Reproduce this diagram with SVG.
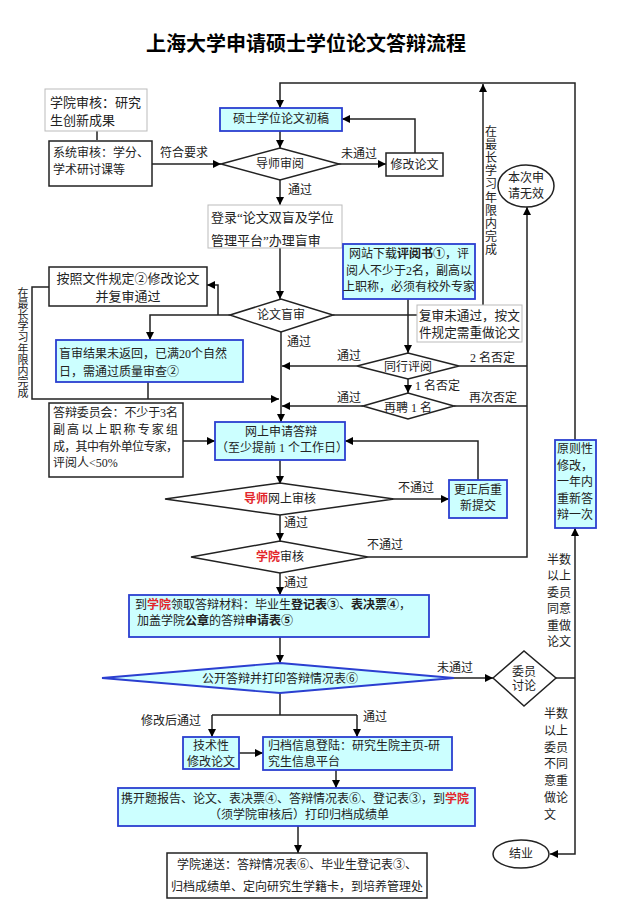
<svg xmlns="http://www.w3.org/2000/svg" width="618" height="918" viewBox="0 0 618 918">
<defs>
<marker id="a" viewBox="0 0 10 10" refX="10" refY="5" markerWidth="9" markerHeight="8" orient="auto" markerUnits="userSpaceOnUse"><path d="M0,0 L10,5 L0,10 z" fill="#000"/></marker>
<style>
text{font-family:"Liberation Serif","Noto Sans CJK SC",serif;font-size:12px;fill:#222;dominant-baseline:central}
.m{text-anchor:middle}
.b{font-weight:bold}
.r{fill:#e3262b;font-weight:bold}
.f13{font-size:13px}
.v11{font-size:11px;text-anchor:middle}
.bk{fill:#fff;stroke:#222;stroke-width:1.5}
.gy{fill:#fff;stroke:#bbb;stroke-width:1}
.cy{fill:#ccffff;stroke:#2b3fd0;stroke-width:1.8}
.dm{fill:#fff;stroke:#222;stroke-width:1.5}
.cn path{fill:none;stroke:#222;stroke-width:1.5}
.ar{marker-end:url(#a)}
</style>
</defs>
<rect width="618" height="918" fill="#fff"/>
<text x="306" y="42" class="m b" style="font-family:'Noto Sans CJK SC',sans-serif;font-size:20px;fill:#000">上海大学申请硕士学位论文答辩流程</text>

<g class="cn">
<path d="M97,131 V140"/>
<path class="ar" d="M152,164 H221"/>
<path class="ar" d="M575,440 V83 H280 V108"/>
<path class="ar" d="M280,131 V148"/>
<path class="ar" d="M338,164 H386"/>
<path class="ar" d="M415,153 V119 H342"/>
<path class="ar" d="M280,180 V205"/>
<path class="ar" d="M280,248 V299"/>
<path class="ar" d="M230,315 H150 V340"/>
<path class="ar" d="M218,315 V285 H207"/>
<path class="ar" d="M49,287 H32 V399 H279"/>
<path d="M148,382 V399"/>
<path class="ar" d="M281,332 V422"/>
<path d="M333,315 H417"/>
<path class="ar" d="M408,299 V353"/>
<path class="ar" d="M483,305 V84"/>
<path class="ar" d="M357,366 H282"/>
<path class="ar" d="M408,379 V393"/>
<path class="ar" d="M363,406 H282"/>
<path d="M459,366 H527"/>
<path d="M454,406 H527"/>
<path class="ar" d="M368,557 H527 V207"/>
<path class="ar" d="M183,441 H215"/>
<path class="ar" d="M478,480 V441 H345"/>
<path class="ar" d="M280,460 V484"/>
<path class="ar" d="M394,499 H449"/>
<path class="ar" d="M280,515 V541"/>
<path class="ar" d="M280,573 V595"/>
<path class="ar" d="M280,637 V663"/>
<path class="ar" d="M454,678 H493"/>
<path d="M280,693 V715 M212,715 H357"/>
<path class="ar" d="M212,715 V737"/>
<path class="ar" d="M357,715 V737"/>
<path class="ar" d="M239,753 H263"/>
<path class="ar" d="M336,770 V788"/>
<path class="ar" d="M298,826 V853"/>
<path d="M556,678 H575"/>
<path class="ar" d="M575,678 V528"/>
<path class="ar" d="M575,678 V854 H550"/>
</g>

<g id="n-xyshenhe"><rect class="gy" x="45" y="89" width="102" height="42"/><text x="50" y="102" class="f13">学院审核：研究</text><text x="50" y="120" class="f13">生创新成果</text></g>
<g id="n-xitong"><rect class="bk" x="49" y="141" width="103" height="45"/><text x="53" y="153">系统审核：学分、</text><text x="53" y="170">学术研讨课等</text></g>
<g id="n-chugao"><rect class="cy" x="220" y="108" width="122" height="23"/><text x="281" y="119" class="m">硕士学位论文初稿</text></g>
<g id="n-daoshi"><polygon class="dm" points="221,164 280,148 339,164 280,180"/><text x="280" y="164" class="m">导师审阅</text></g>
<g id="n-xiugai"><rect class="bk" x="386" y="153" width="57" height="23"/><text x="414.5" y="165" class="m">修改论文</text></g>
<g id="n-wuxiao"><ellipse cx="526" cy="186" rx="28" ry="21" fill="#fff" stroke="#222" stroke-width="1.5"/><text x="526" y="178" class="m">本次申</text><text x="526" y="194" class="m">请无效</text></g>
<g id="n-denglu"><rect class="gy" x="208" y="205" width="134" height="43"/><text x="211" y="217" class="f13">登录“论文双盲及学位</text><text x="211" y="240" class="f13">管理平台”办理盲审</text></g>
<g id="n-anzhao"><rect class="bk" x="49" y="267" width="158" height="39"/><text x="128" y="278" class="m f13">按照文件规定②修改论文</text><text x="128" y="296" class="m f13">并复审通过</text></g>
<g id="n-mangshen"><polygon class="dm" points="230,315 281,299 333,315 281,332"/><text x="281" y="315" class="m">论文盲审</text></g>
<g id="n-wangzhan"><rect class="cy" x="343" y="244" width="132" height="55"/><text x="409" y="254" class="m">网站下载<tspan class="b">评阅书①</tspan>，评</text><text x="409" y="271" class="m">阅人不少于2名，副高以</text><text x="409" y="287" class="m">上职称，必须有校外专家</text></g>
<g id="n-fushen"><rect class="gy" x="417" y="305" width="105" height="37"/><text x="419" y="316" style="font-size:12.6px">复审未通过，按文</text><text x="419" y="333" style="font-size:12.6px">件规定需重做论文</text></g>
<g id="n-weifanhui"><rect class="cy" x="56" y="340" width="187" height="42"/><text x="59" y="354">盲审结果未返回，已满20个自然</text><text x="59" y="372">日，需通过质量审查②</text></g>
<g id="n-tonghang"><polygon class="dm" points="357,366 408,353 459,366 408,379"/><text x="408" y="367" class="m">同行评阅</text></g>
<g id="n-zaipin"><polygon class="dm" points="363,406 408,393 454,406 408,419"/><text x="408" y="408" class="m">再聘 1 名</text></g>
<g id="n-weiyuanhui"><rect class="bk" x="49" y="403" width="134" height="74"/><text x="53" y="413" textLength="125" lengthAdjust="spacing">答辩委员会：不少于3名</text><text x="53" y="430" textLength="125" lengthAdjust="spacing">副高以上职称专家组</text><text x="53" y="447" textLength="125" lengthAdjust="spacing">成，其中有外单位专家，</text><text x="53" y="463">评阅人&lt;50%</text></g>
<g id="n-shenqing"><rect class="cy" x="215" y="422" width="130" height="38"/><text x="281" y="432" class="m">网上申请答辩</text><text x="282" y="448" class="m">（至少提前 1 个工作日）</text></g>
<g id="n-gengzheng"><rect class="cy" x="449" y="480" width="58" height="38"/><text x="478" y="490" class="m">更正后重</text><text x="478" y="506" class="m">新提交</text></g>
<g id="n-wangshang"><polygon class="dm" points="165,499 280,483 394,499 280,515"/><text x="280" y="499" class="m"><tspan class="r">导师</tspan>网上审核</text></g>
<g id="n-xueyuan"><polygon class="dm" points="191,557 280,541 368,557 280,573"/><text x="280" y="557" class="m"><tspan class="r">学院</tspan>审核</text></g>
<g id="n-lingqu"><rect class="cy" x="129" y="595" width="300" height="42"/><text x="135" y="605">到<tspan class="r">学院</tspan>领取答辩材料：毕业生<tspan class="b">登记表③</tspan>、<tspan class="b">表决票④</tspan>，</text><text x="137" y="621">加盖学院<tspan class="b">公章</tspan>的答辩<tspan class="b">申请表⑤</tspan></text></g>
<g id="n-gongkai"><polygon points="102,678 280,663 454,678 280,693" fill="#ccffff" stroke="#2b3fd0" stroke-width="1.8"/><text x="280" y="679" class="m">公开答辩并打印答辩情况表⑥</text></g>
<g id="n-taolun"><polygon class="dm" points="493,678 524,651 556,678 524,706"/><text x="524" y="672" class="m">委员</text><text x="524" y="686" class="m">讨论</text></g>
<g id="n-yuanze"><rect class="cy" x="555" y="440" width="41" height="88"/><text x="575" y="449" class="m">原则性</text><text x="575" y="466" class="m">修改，</text><text x="575" y="482" class="m">一年内</text><text x="575" y="499" class="m">重新答</text><text x="575" y="515" class="m">辩一次</text></g>
<g id="n-jishu"><rect class="cy" x="183" y="737" width="56" height="32"/><text x="211" y="746" class="m">技术性</text><text x="211" y="762" class="m">修改论文</text></g>
<g id="n-guidang"><rect class="cy" x="263" y="737" width="189" height="33"/><text x="268" y="746">归档信息登陆：研究生院主页-研</text><text x="268" y="762">究生信息平台</text></g>
<g id="n-xie"><rect class="cy" x="118" y="788" width="357" height="38"/><text x="121" y="799">携开题报告、论文、表决票④、答辩情况表⑥、登记表③，到<tspan class="r">学院</tspan></text><text x="299" y="815" class="m">（须学院审核后）打印归档成绩单</text></g>
<g id="n-jieye"><ellipse cx="521" cy="854" rx="28" ry="14" fill="#fff" stroke="#222" stroke-width="1.5"/><text x="521" y="854" class="m">结业</text></g>
<g id="n-disong"><rect class="bk" x="167" y="853" width="260" height="45"/><text x="297" y="865" class="m">学院递送：答辩情况表⑥、毕业生登记表③、</text><text x="297" y="887" class="m">归档成绩单、定向研究生学籍卡，到培养管理处</text></g>

<g id="labels">
<text x="160" y="153">符合要求</text>
<text x="341" y="154">未通过</text>
<text x="288" y="190">通过</text>
<text x="287" y="342">通过</text>
<text x="337" y="356">通过</text>
<text x="337" y="398">通过</text>
<text x="470" y="358">2 名否定</text>
<text x="415" y="386">1 名否定</text>
<text x="469" y="398">再次否定</text>
<text x="398" y="488">不通过</text>
<text x="367" y="545">不通过</text>
<text x="284" y="523">通过</text>
<text x="284" y="583">通过</text>
<text x="437" y="668">未通过</text>
<text x="141" y="721">修改后通过</text>
<text x="363" y="717">通过</text>
<text x="491" y="132" class="m">在</text><text x="491" y="145" class="m">最</text><text x="491" y="158" class="m">长</text><text x="491" y="171" class="m">学</text><text x="491" y="184" class="m">习</text><text x="491" y="198" class="m">年</text><text x="491" y="211" class="m">限</text><text x="491" y="224" class="m">内</text><text x="491" y="237" class="m">完</text><text x="491" y="250" class="m">成</text>
<text x="23" y="293" class="v11">在</text><text x="23" y="304" class="v11">最</text><text x="23" y="315" class="v11">长</text><text x="23" y="326" class="v11">学</text><text x="23" y="337" class="v11">习</text><text x="23" y="349" class="v11">年</text><text x="23" y="360" class="v11">限</text><text x="23" y="371" class="v11">内</text><text x="23" y="382" class="v11">完</text><text x="23" y="393" class="v11">成</text>
<text x="547" y="560">半数</text><text x="547" y="576">以上</text><text x="547" y="593">委员</text><text x="547" y="609">同意</text><text x="547" y="626">重做</text><text x="547" y="642">论文</text>
<text x="544" y="714">半数</text><text x="544" y="731">以上</text><text x="544" y="748">委员</text><text x="544" y="764">不同</text><text x="544" y="781">意重</text><text x="544" y="798">做论</text><text x="544" y="815">文</text>
</g>
</svg>
